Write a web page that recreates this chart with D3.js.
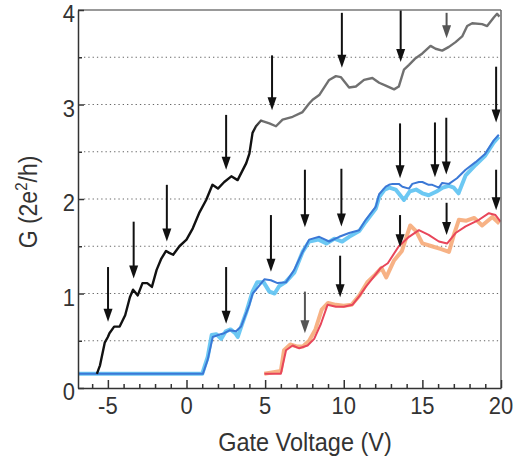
<!DOCTYPE html>
<html>
<head>
<meta charset="utf-8">
<script src="https://cdn.jsdelivr.net/npm/d3@7"></script>
<style>
  body { margin: 0; background: #fff; }
  svg { display: block; font-family: "Liberation Sans", Arial, sans-serif; }
</style>
</head>
<body>
<svg id="chart" width="513" height="461"></svg>
<script>
`use strict`;

// black -> gray sweep (device 1)
const topX = [-5.7,-5.5,-5.2,-5.0,-4.9,-4.6,-4.25,-3.9,-3.6,-3.4,-3.1,-2.8,-2.5,-2.2,-1.9,-1.6,-1.3,-1.1,-0.85,-0.45,0,0.4,0.8,1.25,1.65,2.0,2.4,2.85,3.25,3.8,4.0,4.2,4.42,4.74,5.27,5.69,6.11,6.75,7.38,7.8,8.02,8.44,9.07,9.5,9.81,10.34,10.77,11.29,11.82,12.25,12.67,13.2,13.5,13.83,14.15,14.57,15.0,15.52,15.84,16.26,16.69,17.11,17.53,17.85,18.17,18.8,19.12,19.54,19.75,19.9];
const topG = [0.15,0.24,0.48,0.54,0.58,0.65,0.65,0.77,0.96,1.04,0.98,1.11,1.11,1.07,1.25,1.37,1.45,1.43,1.41,1.50,1.57,1.69,1.85,1.99,2.15,2.11,2.18,2.24,2.2,2.38,2.48,2.7,2.77,2.83,2.80,2.77,2.84,2.87,2.92,3.01,3.05,3.10,3.26,3.30,3.29,3.18,3.19,3.26,3.28,3.23,3.20,3.16,3.19,3.37,3.42,3.49,3.54,3.62,3.59,3.57,3.61,3.66,3.72,3.83,3.86,3.85,3.83,3.92,3.96,3.93];

// blue pair
const blueX = [-6.9,1.04,1.35,1.67,2.0,2.4,2.73,3.15,3.47,3.79,4.0,4.21,4.42,4.95,5.37,5.79,6.33,6.85,7.38,7.8,8.44,9.07,9.71,10.34,10.98,11.4,12.04,12.25,12.67,12.88,13.1,13.5,13.73,14.15,14.36,14.78,15.0,15.4,15.63,16.05,16.26,16.69,17.2,17.75,18.38,19.0,19.54,19.86];
const blueG = [0.15,0.15,0.30,0.54,0.56,0.58,0.61,0.60,0.65,0.79,0.88,1.0,1.04,1.15,1.14,1.11,1.12,1.25,1.44,1.57,1.60,1.55,1.60,1.64,1.67,1.78,1.92,2.05,2.13,2.15,2.16,2.16,2.13,2.11,2.16,2.18,2.18,2.15,2.15,2.12,2.17,2.16,2.22,2.31,2.39,2.48,2.62,2.68];
const cyanX = [-6.9,1.0,1.35,1.6,1.9,2.2,2.5,2.8,3.1,3.26,3.5,3.8,4.2,4.5,4.9,5.27,5.6,5.9,6.3,6.85,7.38,7.8,8.4,8.9,9.4,9.9,10.34,10.98,11.4,12.04,12.25,12.6,12.9,13.3,13.83,14.2,14.6,15.0,15.4,15.9,16.3,16.69,17.0,17.3,17.75,18.38,19.0,19.54,19.86];
const cyanG = [0.15,0.15,0.33,0.56,0.57,0.52,0.60,0.62,0.58,0.54,0.66,0.80,1.02,1.12,1.12,1.02,1.0,1.08,1.12,1.22,1.44,1.55,1.57,1.53,1.58,1.55,1.60,1.66,1.76,1.90,2.02,2.10,2.12,2.10,1.99,2.08,2.10,2.06,2.04,2.08,2.12,2.14,2.12,2.06,2.25,2.36,2.46,2.60,2.66];

// red pair
const redX = [4.95,6.0,6.33,6.75,7.17,7.7,8.12,8.55,8.97,9.5,10.0,10.55,10.98,11.4,11.93,12.35,12.8,13.5,14.15,14.78,15.4,16.05,16.58,17.11,17.75,18.6,19.23,19.65,19.97];
const redG = [0.15,0.15,0.40,0.45,0.42,0.45,0.52,0.68,0.88,0.86,0.86,0.88,0.97,1.07,1.18,1.27,1.32,1.50,1.60,1.67,1.62,1.55,1.53,1.64,1.71,1.78,1.85,1.83,1.76];
const orangeX = [4.95,6.0,6.2,6.6,7.0,7.4,7.8,8.2,8.6,9.0,9.5,10.0,10.5,11.0,11.5,12.0,12.4,12.7,13.2,13.7,14.23,14.6,15.0,15.6,16.2,16.69,17.0,17.32,17.8,18.3,18.8,19.45,19.9];
const orangeG = [0.15,0.18,0.40,0.46,0.44,0.44,0.50,0.62,0.83,0.90,0.88,0.87,0.88,0.98,1.12,1.20,1.27,1.17,1.35,1.45,1.72,1.66,1.53,1.50,1.47,1.44,1.62,1.78,1.77,1.80,1.72,1.81,1.74];

// arrows: [x, top G, tip G]
const arrowsTop = [[-4.99,1.28,0.70],[-3.36,1.76,1.16],[-1.25,2.15,1.55],[2.52,2.89,2.31],[5.44,3.52,2.94],[9.88,3.97,3.39],[13.62,4.0,3.45],[19.69,3.40,2.81]];
const arrowsBlue = [[2.52,1.28,0.68],[5.37,1.83,1.23],[7.53,2.31,1.70],[9.85,2.32,1.71],[13.58,2.80,2.22],[15.8,2.81,2.23],[16.52,2.86,2.26]];
const arrowsRed = [[19.69,2.31,1.88],[9.77,1.40,0.96],[13.58,1.83,1.49],[16.54,1.96,1.62]];
const arrowsGray = [[16.54,3.97,3.70],[7.53,1.02,0.58]];

const xMinor = d3.range(-6, 21);
const xLabels = [-5, 0, 5, 10, 15, 20];
const yMinor = d3.range(0, 4.01, 0.5);
const yLabels = [0, 1, 2, 3, 4];
const yGrid = [0.5, 1, 1.5, 2, 2.5, 3, 3.5];

const svg = d3.select(`#chart`);

const x = d3.scaleLinear().domain([-6.9, 20]).range([78, 501]);
const y = d3.scaleLinear().domain([0, 4]).range([388, 10]);

const line = d3.line().x(d => x(d[0])).y(d => y(d[1]));

// dotted grid
svg.append(`g`).selectAll(`line`).data(yGrid)
  .enter()
  .append(`line`)
  .attr(`x1`, x(-6.9) + 6)
  .attr(`x2`, x(20) - 2)
  .attr(`y1`, d => y(d))
  .attr(`y2`, d => y(d))
  .attr(`stroke`, `#666`)
  .attr(`stroke-width`, 1.1)
  .attr(`stroke-dasharray`, `1.3,3`);

let defs = svg.append(`defs`);

let grad = defs.append(`linearGradient`)
  .attr(`id`, `topGrad`)
  .attr(`gradientUnits`, `userSpaceOnUse`)
  .attr(`x1`, x(4.2)).attr(`x2`, x(4.9))
  .attr(`y1`, 0).attr(`y2`, 0);

grad.append(`stop`).attr(`offset`, 0).attr(`stop-color`, `#111`);
grad.append(`stop`).attr(`offset`, 1).attr(`stop-color`, `#707070`);

let curves = svg.append(`g`).attr(`fill`, `none`).attr(`stroke-linejoin`, `round`);

curves.append(`path`).datum(d3.zip(cyanX, cyanG))
  .attr(`d`, line)
  .attr(`stroke`, `#5cc2f2`)
  .attr(`stroke-width`, 4)
  .attr(`opacity`, .9);

curves.append(`path`).datum(d3.zip(blueX, blueG))
  .attr(`d`, line)
  .attr(`stroke`, `#3b78d6`)
  .attr(`stroke-width`, 2);

curves.append(`path`).datum(d3.zip(orangeX, orangeG))
  .attr(`d`, line)
  .attr(`stroke`, `#f6aa78`)
  .attr(`stroke-width`, 4)
  .attr(`opacity`, .9);

curves.append(`path`).datum(d3.zip(redX, redG))
  .attr(`d`, line)
  .attr(`stroke`, `#e8465a`)
  .attr(`stroke-width`, 2);

curves.append(`path`).datum(d3.zip(topX, topG))
  .attr(`d`, line)
  .attr(`stroke`, `url(#topGrad)`)
  .attr(`stroke-width`, 2.4);

// arrows
let drawArrows = (list, col) => {

  let g = svg.append(`g`).selectAll(`g`).data(list).enter().append(`g`);

  g.append(`line`)
    .attr(`x1`, d => x(d[0]))
    .attr(`x2`, d => x(d[0]))
    .attr(`y1`, d => y(d[1]))
    .attr(`y2`, d => y(d[2]) - 10)
    .attr(`stroke`, col)
    .attr(`stroke-width`, 2);

  g.append(`path`)
    .attr(`d`, d => `M${x(d[0]) - 4.5},${y(d[2]) - 13}L${x(d[0]) + 4.5},${y(d[2]) - 13}L${x(d[0])},${y(d[2])}Z`)
    .attr(`fill`, col);
}

drawArrows(arrowsTop, `#111`);
drawArrows(arrowsBlue, `#111`);
drawArrows(arrowsRed, `#111`);
drawArrows(arrowsGray, `#555`);

// frame
svg.append(`line`)
  .attr(`x1`, x(-6.9)).attr(`x2`, x(20))
  .attr(`y1`, y(4)).attr(`y2`, y(4))
  .attr(`stroke`, `#777`).attr(`stroke-width`, 1.5);

svg.append(`line`)
  .attr(`x1`, x(20)).attr(`x2`, x(20))
  .attr(`y1`, y(4)).attr(`y2`, y(0))
  .attr(`stroke`, `#666`).attr(`stroke-width`, 1.5);

let xAxis = svg.append(`g`)
  .attr(`transform`, `translate(0,${y(0)})`)
  .call(d3.axisBottom(x).tickValues(xMinor).tickSizeInner(-4).tickSizeOuter(0).tickFormat(``));

xAxis.selectAll(`.tick line`)
  .attr(`y2`, d => d % 5 === 0 ? -8 : -4);

let yAxis = svg.append(`g`)
  .attr(`transform`, `translate(${x(-6.9)},0)`)
  .call(d3.axisLeft(y).tickValues(yMinor).tickSizeInner(-5).tickSizeOuter(0).tickFormat(``));

yAxis.selectAll(`.tick line`)
  .attr(`x2`, d => d % 1 === 0 ? 6 : 4);

svg.selectAll(`.domain, .tick line`)
  .attr(`stroke`, `#333`)
  .attr(`stroke-width`, 1.5);

// labels (font is a bit tall in the source)
svg.append(`g`).selectAll(`g`).data(xLabels)
  .enter()
  .append(`g`)
  .attr(`transform`, d => `translate(${x(d)},414) scale(1,1.1)`)
  .append(`text`)
  .attr(`text-anchor`, `middle`)
  .attr(`font-size`, 22)
  .attr(`fill`, `#333`)
  .text(d => d < 0 ? `-${-d}` : d);

svg.append(`g`).selectAll(`g`).data(yLabels)
  .enter()
  .append(`g`)
  .attr(`transform`, d => `translate(75,${y(d) + 12}) scale(1,1.1)`)
  .append(`text`)
  .attr(`text-anchor`, `end`)
  .attr(`font-size`, 22)
  .attr(`fill`, `#333`)
  .text(d => d);

svg.append(`g`)
  .attr(`transform`, `translate(305,451) scale(1,1.1)`)
  .append(`text`)
  .attr(`text-anchor`, `middle`)
  .attr(`font-size`, 23.5)
  .attr(`fill`, `#333`)
  .text(`Gate Voltage (V)`);

let yt = svg.append(`g`)
  .attr(`transform`, `translate(37,202) rotate(-90) scale(1,1.15)`)
  .append(`text`)
  .attr(`text-anchor`, `middle`)
  .attr(`font-size`, 23)
  .attr(`fill`, `#333`);

yt.append(`tspan`).text(`G (2e`);
yt.append(`tspan`).attr(`dy`, -9).attr(`font-size`, 15).text(`2`);
yt.append(`tspan`).attr(`dy`, 9).text(`/h)`);
</script>
</body>
</html>
